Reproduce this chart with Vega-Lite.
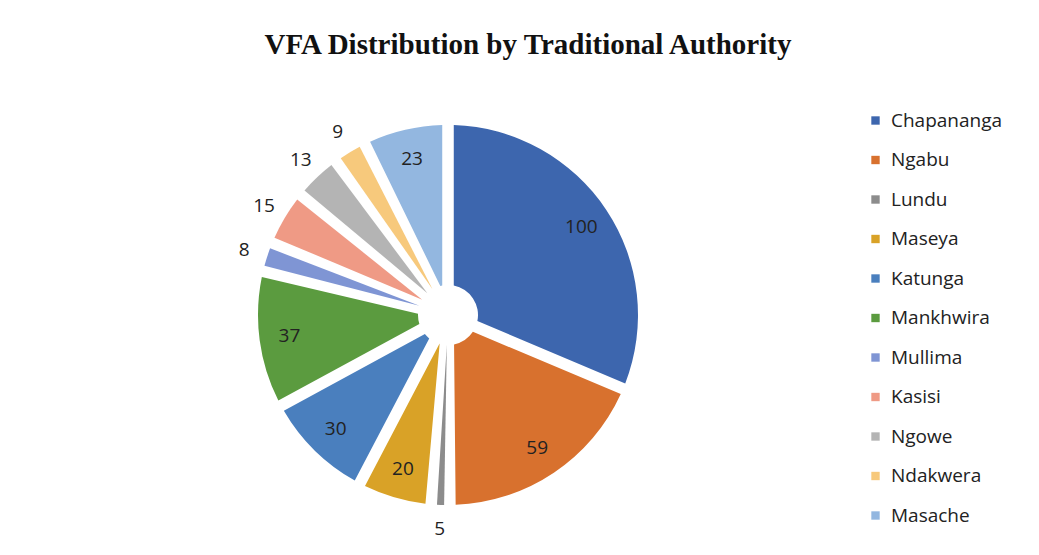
{
  "$schema": "https://vega.github.io/schema/vega-lite/v6.json",
  "width": 420,
  "height": 440,
  "autosize": {"type": "pad"},
  "padding": {"left": 235, "top": 31, "right": 5, "bottom": 5},
  "background": "white",
  "view": {"stroke": null},
  "title": {
    "text": "VFA Distribution by Traditional Authority",
    "font": "Liberation Serif",
    "fontSize": 29,
    "fontWeight": "bold",
    "color": "#111111",
    "anchor": "middle",
    "dx": 80,
    "offset": 35
  },
  "data": {
    "values": [
      {"order": 1, "authority": "Chapananga", "value": 100},
      {"order": 2, "authority": "Ngabu", "value": 59},
      {"order": 3, "authority": "Lundu", "value": 5},
      {"order": 4, "authority": "Maseya", "value": 20},
      {"order": 5, "authority": "Katunga", "value": 30},
      {"order": 6, "authority": "Mankhwira", "value": 37},
      {"order": 7, "authority": "Mullima", "value": 8},
      {"order": 8, "authority": "Kasisi", "value": 15},
      {"order": 9, "authority": "Ngowe", "value": 13},
      {"order": 10, "authority": "Ndakwera", "value": 9},
      {"order": 11, "authority": "Masache", "value": 23}
    ]
  },
  "encoding": {
    "theta": {"field": "value", "type": "quantitative", "stack": true},
    "order": {"field": "order", "type": "quantitative"},
    "color": {
      "field": "authority",
      "type": "nominal",
      "sort": null,
      "scale": {
        "domain": ["Chapananga", "Ngabu", "Lundu", "Maseya", "Katunga", "Mankhwira", "Mullima", "Kasisi", "Ngowe", "Ndakwera", "Masache"],
        "range": ["#3D66AE", "#D8712E", "#8C8C8C", "#D9A227", "#4A7FBE", "#5B9B3F", "#7F95D4", "#EF9A85", "#B4B4B4", "#F7C97C", "#93B7E0"]
      },
      "legend": {
        "orient": "none",
        "legendX": 628,
        "legendY": 16,
        "title": null,
        "labelFont": "Open Sans",
        "labelFontSize": 19,
        "labelColor": "#222222",
        "symbolType": "square",
        "symbolSize": 70,
        "symbolStrokeWidth": 0,
        "labelOffset": 6,
        "rowPadding": 19.5
      }
    }
  },
  "layer": [
    {
      "mark": {"type": "arc", "outerRadius": 190, "innerRadius": 30, "padAngle": 0.06}
    },
    {
      "mark": {"type": "text", "radius": 160, "font": "Open Sans", "fontSize": 19, "color": "#222222"},
      "encoding": {
        "text": {"condition": {"test": "datum.value < 20", "value": ""}, "field": "value", "type": "quantitative"},
        "color": {"value": "#222222"}
      }
    },
    {
      "mark": {"type": "text", "radius": 214, "font": "Open Sans", "fontSize": 19, "color": "#222222"},
      "encoding": {
        "text": {"condition": {"test": "datum.value >= 20", "value": ""}, "field": "value", "type": "quantitative"},
        "color": {"value": "#222222"}
      }
    }
  ]
}
